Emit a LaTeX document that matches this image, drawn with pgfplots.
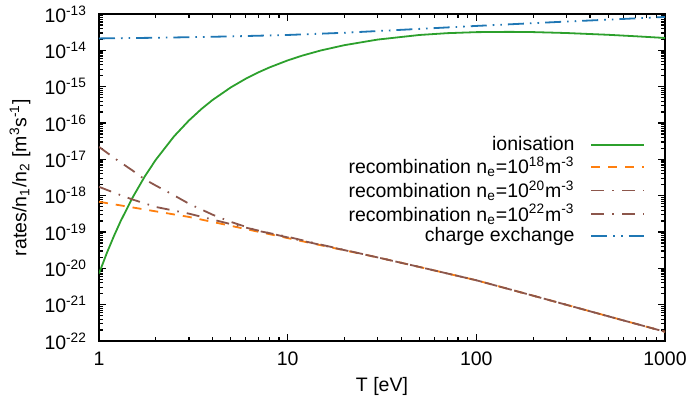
\documentclass[border=0pt]{standalone}
\usepackage{fontspec}
\setmainfont{Liberation Sans}
\usepackage{pgfplots}
\pgfplotsset{compat=1.18}
\definecolor{cgreen}{HTML}{2CA02C}
\definecolor{corange}{HTML}{FF7F0E}
\definecolor{cbrown}{HTML}{8C564B}
\definecolor{cblue}{HTML}{1F77B4}
\begin{document}
\begin{tikzpicture}[font=\fontsize{9.75}{11.7}\selectfont]
\begin{axis}[
  name=ax, at={(0,0)}, anchor=south west,
  scale only axis, width=283pt, height=163.5pt,
  xmode=log, ymode=log,
  xmin=1, xmax=1000, ymin=1e-22, ymax=1e-13,
  xtick={1,10,100,1000}, xticklabels={1,10,100,1000},
  ytick={1e-22,1e-21,1e-20,1e-19,1e-18,1e-17,1e-16,1e-15,1e-14,1e-13},
  yticklabels={10\textsuperscript{-22},10\textsuperscript{-21},10\textsuperscript{-20},10\textsuperscript{-19},10\textsuperscript{-18},10\textsuperscript{-17},10\textsuperscript{-16},10\textsuperscript{-15},10\textsuperscript{-14},10\textsuperscript{-13}},
  tick align=inside,
  major tick length=3.5pt, minor tick length=2pt,
  every tick/.style={black, line width=0.6pt},
  axis line style={line width=1pt},
  ticklabel style={font=\fontsize{9.75}{11.7}\selectfont},
  yticklabel style={xshift=-2.5pt},
  xticklabel style={yshift=-2pt},
  xlabel={T [eV]},
  ylabel={rates/n\textsubscript{1}/n\textsubscript{2} [m\textsuperscript{3}s\textsuperscript{-1}]},
  every axis x label/.style={at={(axis description cs:0.5,-0.1376)}, anchor=center},
  every axis y label/.style={at={(axis description cs:-0.1396,0.5)}, rotate=90, anchor=center},
  legend cell align=right,
  legend plot pos=right,
  legend style={draw=none, fill=none, at={(rel axis cs:0.966,0.640)}, anchor=north east,
    inner sep=0pt, column sep=6pt, row sep=-2.1pt,
    font=\fontsize{9.75}{11.7}\selectfont},
  legend image code/.code={\draw[line width=0.9pt,#1] plot coordinates {(0pt,0pt) (13.25pt,0pt) (26.5pt,0pt)};},
  every axis plot/.append style={line width=0.9pt},
]
\addplot[color=cgreen, solid] table {
1 7.19e-21
1.1 2.63e-20
1.2 7.76e-20
1.3 1.95e-19
1.5 8.54e-19
1.75 3.41e-18
2 9.73e-18
2.5 4.31e-17
3 1.18e-16
3.5 2.46e-16
4 4.31e-16
5 9.59e-16
6 1.66e-15
7 2.48e-15
8 3.38e-15
10 5.29e-15
12 7.21e-15
15 9.94e-15
20 1.39e-14
30 1.98e-14
50 2.65e-14
70 2.97e-14
100 3.17e-14
150 3.23e-14
200 3.18e-14
300 3.00e-14
500 2.68e-14
700 2.44e-14
1000 2.19e-14
};
\addlegendentry{ionisation}
\addplot[color=corange, dash pattern=on 4.5pt off 4pt] table {
1 6.8e-19
2 3.7e-19
3 2.6e-19
5 1.48e-19
10 6.8e-20
15 4.32e-20
30 2.0e-20
50 1.09e-20
100 4.7e-21
200 1.77e-21
500 4.8e-22
1000 1.8e-22
};
\addlegendentry{recombination n\textsubscript{e}=10\textsuperscript{18}m\textsuperscript{-3}}
\addplot[color=cbrown, dash pattern=on 6.5pt off 4pt on 0.8pt off 4pt] table {
1 1.75e-18
1.25 1.12e-18
1.5 7.9e-19
2 4.9e-19
3 3.2e-19
5 1.65e-19
10 7.1e-20
15 4.4e-20
30 2.0e-20
50 1.09e-20
100 4.7e-21
200 1.77e-21
500 4.8e-22
1000 1.8e-22
};
\addlegendentry{recombination n\textsubscript{e}=10\textsuperscript{20}m\textsuperscript{-3}}
\addplot[color=cbrown, dash pattern=on 6.5pt off 4pt on 0.8pt off 4pt] table {
1 2.2e-17
1.25 9.5e-18
1.5 5.0e-18
1.75 2.8e-18
2 1.9e-18
2.5 1.02e-18
3 6.0e-19
4 3.0e-19
5 1.9e-19
7 1.07e-19
10 7.4e-20
15 4.5e-20
30 2.0e-20
50 1.09e-20
100 4.7e-21
200 1.77e-21
500 4.8e-22
1000 1.8e-22
};
\addlegendentry{recombination n\textsubscript{e}=10\textsuperscript{22}m\textsuperscript{-3}}
\addplot[color=cblue, dash pattern=on 8pt off 3pt on 0.8pt off 3pt on 0.8pt off 3pt] table {
1 2.13e-14
2 2.22e-14
3 2.30e-14
5 2.42e-14
10 2.65e-14
20 3.05e-14
30 3.40e-14
50 3.90e-14
100 4.70e-14
200 5.60e-14
300 6.20e-14
500 7.00e-14
1000 8.30e-14
};
\addlegendentry{charge exchange}
\end{axis}
\pgfresetboundingbox
\path ([shift={(-49.5pt,-33.5pt)}]ax.south west) rectangle ([shift={(12.5pt,7pt)}]ax.north east);
\end{tikzpicture}
\end{document}
